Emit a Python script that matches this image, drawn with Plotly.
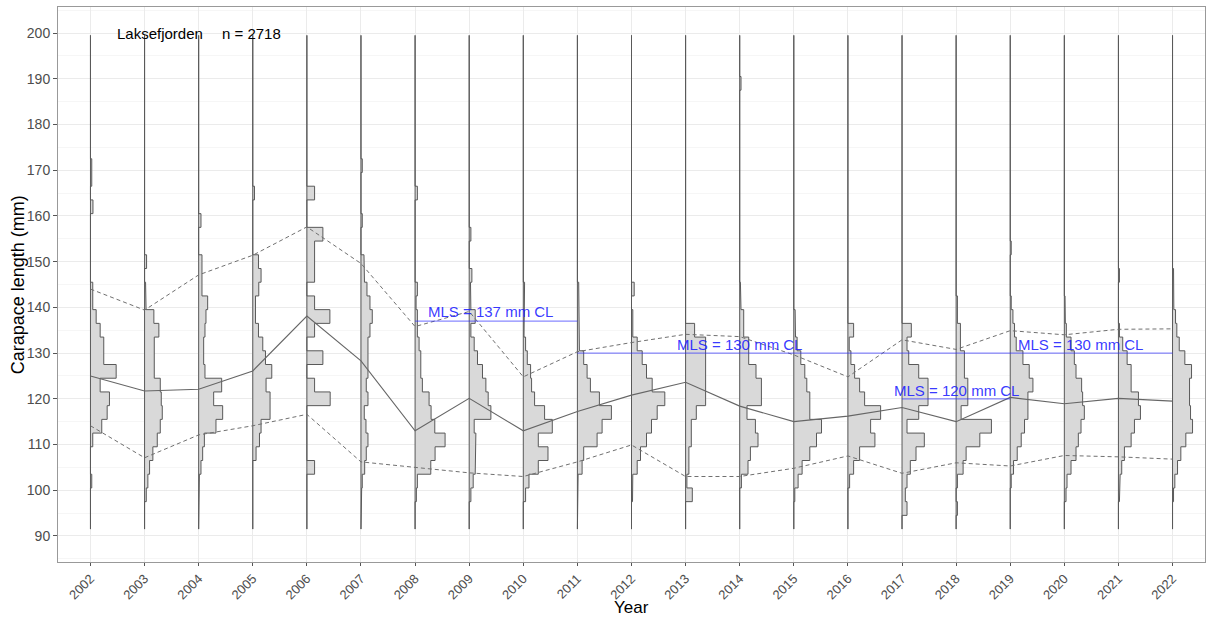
import plotly.graph_objects as go

# ---------------- data ----------------
years = list(range(2002, 2023))
bin_width = 3.0
bin_min, bin_max = 91.5, 199.5

# lower edge of the first listed bin, per year
hist_first_bin = [100.5, 97.5, 100.5, 106.5, 103.5, 97.5, 97.5, 97.5, 97.5, 100.5,
                  97.5, 97.5, 100.5, 97.5, 100.5, 94.5, 94.5, 100.5, 97.5, 97.5, 97.5]

# relative frequency per 3 mm bin (scaled), listed from the first bin upward
hist_freq = [
    [1.3, 0, 0, 2.3, 11.3, 16.7, 19, 9.7, 25.7, 13.3, 13.3, 9.7, 5.7, 2.3, 2.3, 0, 0, 0, 0, 0, 2.5, 0, 1.3, 1.3],
    [1.7, 3.3, 5, 8.3, 12.7, 15.7, 17.7, 16.7, 15.7, 9.7, 9.7, 9.7, 14.3, 9.3, 1.5, 1.0, 0, 2.0],
    [0.7, 2.3, 4, 5.7, 17.3, 24, 15, 23, 6.3, 5, 5, 6.3, 7.3, 9, 3.3, 3.3, 3.3, 0, 0, 2.3],
    [3.3, 6.7, 8.3, 17.3, 17.3, 13.3, 19, 12.7, 10, 5.7, 2.7, 2.7, 6, 8.3, 5.7, 0, 0, 0, 0, 1.7],
    [7.7, 0, 0, 0, 0, 23.3, 7.7, 0, 16, 0, 7.7, 23, 7.7, 0, 7.7, 7.7, 7.7, 16, 0, 0, 7.7],
    [0.7, 1.3, 3.7, 5.3, 7, 5, 3.3, 7, 5.3, 7, 7, 7, 9, 11.3, 9, 6, 3.5, 3, 0, 0, 1.3, 0, 0, 0, 1.3],
    [1.3, 2.3, 15.7, 20, 30, 19.7, 16, 14, 7.3, 5.7, 5.7, 4, 2.3, 2.3, 1, 2.3, 0, 0, 0, 0, 0, 0, 2.3],
    [1.7, 4, 6, 6, 6.7, 5, 21.7, 19, 16.7, 13.3, 8.3, 5, 1.7, 6, 1.7, 1.3, 2.7, 0, 0, 1.7],
    [2.3, 5.7, 15, 24.7, 15, 29, 21.3, 11.3, 8.3, 7.3, 4, 2.3, 0.7, 1.3, 1.3, 1.3],
    [0.7, 4.7, 6.3, 19.7, 24.7, 34, 22, 13, 9.7, 6.3, 2, 1.3, 1.3, 1.3, 1.3],
    [1, 1.3, 5.7, 9, 15, 20, 25.7, 33.3, 20.7, 15, 10.7, 5.7, 1.3, 1.3, 0, 2.7],
    [6.7, 1.3, 3.3, 3.3, 5.7, 5.7, 10.7, 20, 20, 20, 20, 20, 9],
    [1.7, 8.3, 10.7, 18.3, 15.7, 7.3, 21.7, 21.7, 16.3, 9, 9, 4, 4, 1.3, 0.7,
     0, 0, 0, 0, 0, 0, 0, 0, 0, 0, 0, 0, 0, 0, 1.3],
    [1, 4.3, 8.3, 16, 22.7, 27.7, 16, 16, 13, 11, 7, 3.3, 1.7, 1.3],
    [1.7, 5.7, 11.7, 27, 22.7, 32.7, 16.7, 11.7, 6.7, 3, 1.3, 5.7],
    [5, 3.3, 5, 8.3, 14, 22.3, 5, 16.7, 26, 26, 16.7, 6.7, 5, 9.3],
    [1.3, 0, 1.3, 7, 10, 23.7, 35.3, 5, 11.7, 11.7, 8.3, 8.3, 4.3, 4.3, 1.3, 1.3],
    [1, 3.3, 7, 11, 14.3, 17.7, 17.7, 22.7, 19, 12.7, 6, 4.3, 2.7, 1, 0, 0, 0, 1],
    [1.7, 2.7, 6.7, 11.7, 14, 16.7, 20, 18.3, 17.3, 11.7, 10, 6.7, 2, 1, 0.7],
    [1, 1.7, 3.3, 6, 12.7, 16, 22, 20, 12.7, 12.7, 8.7, 4.3, 1, 0, 0, 0, 1],
    [1, 2.3, 5, 8.3, 13.3, 20, 18, 17, 17, 19, 12.3, 6.7, 4.3, 3, 1.3, 1, 1],
]

mean_cl = [125.0, 121.7, 122.1, 126.1, 138.1, 128.3, 113.0, 120.1, 113.0, 117.2, 120.8,
           123.6, 118.4, 115.0, 116.2, 118.1, 115.0, 120.3, 118.9, 120.1, 119.5]
upper_cl = [144.0, 139.4, 147.1, 151.4, 157.6, 149.6, 135.8, 139.1, 124.8, 130.3, 132.3,
            134.1, 133.6, 129.6, 124.8, 132.9, 130.8, 134.9, 134.0, 135.2, 135.3]
lower_cl = [114.1, 107.1, 112.1, 114.1, 116.6, 106.2, 105.0, 103.8, 103.0, 106.2, 109.9,
            103.0, 103.0, 104.8, 107.5, 103.7, 106.0, 105.3, 107.6, 107.3, 106.8]

mls_values = [137, 130, 120]
mls_start = [2008, 2011, 2017]
mls_end = [2011, 2022, 2019]
mls_labels = ["MLS = 137 mm CL", "MLS = 130 mm CL", "MLS = 130 mm CL", "MLS = 120 mm CL"]
mls_label_x = [2009.4, 2014.0, 2020.3, 2018.0]
mls_label_y = [139.0, 131.8, 131.8, 121.9]

region_name = "Laksefjorden"
n_total = 2718

# ---------------- figure ----------------
FREQ_TO_YEAR = 1 / 54.1  # horizontal scale of histogram bars (year units per freq unit)
FONT = "Liberation Sans, Arial, sans-serif"

fig = go.Figure()

n_bins = int(round((bin_max - bin_min) / bin_width))
for yr, first, freqs in zip(years, hist_first_bin, hist_freq):
    full = [0.0] * n_bins
    k0 = int(round((first - bin_min) / bin_width))
    for i, f in enumerate(freqs):
        full[k0 + i] = f
    xs, ys = [yr], [bin_min]
    for k, f in enumerate(full):
        lo = bin_min + k * bin_width
        xs += [yr + f * FREQ_TO_YEAR, yr + f * FREQ_TO_YEAR]
        ys += [lo, lo + bin_width]
    xs += [yr, yr]
    ys += [bin_max, bin_min]
    fig.add_trace(go.Scatter(x=xs, y=ys, mode="lines", fill="toself",
                             fillcolor="#d9d9d9", line=dict(color="#595959", width=1),
                             hoverinfo="skip", showlegend=False))

fig.add_trace(go.Scatter(x=years, y=upper_cl, mode="lines",
                         line=dict(color="#707070", width=1, dash="4px,3px"), showlegend=False))
fig.add_trace(go.Scatter(x=years, y=lower_cl, mode="lines",
                         line=dict(color="#707070", width=1, dash="4px,3px"), showlegend=False))
fig.add_trace(go.Scatter(x=years, y=mean_cl, mode="lines",
                         line=dict(color="#666666", width=1.1), showlegend=False))

for v, x0, x1 in zip(mls_values, mls_start, mls_end):
    fig.add_trace(go.Scatter(x=[x0, x1], y=[v, v], mode="lines",
                             line=dict(color="rgba(40,40,255,0.55)", width=1.2), showlegend=False))

annotations = []
for txt, x, y in zip(mls_labels, mls_label_x, mls_label_y):
    annotations.append(dict(x=x, y=y, text=txt, showarrow=False, xref="x", yref="y",
                            font=dict(family=FONT, size=15, color="rgba(30,30,255,0.9)")))
annotations.append(dict(x=2003.29, y=200, text=region_name, showarrow=False, xref="x", yref="y",
                        font=dict(family=FONT, size=15, color="black")))
annotations.append(dict(x=2004.97, y=200, text=f"n = {n_total}", showarrow=False, xref="x", yref="y",
                        font=dict(family=FONT, size=15, color="black")))
# axis titles placed as annotations to match reference positions
annotations.append(dict(x=-0.035, y=0.5, xref="paper", yref="paper", text="Carapace length (mm)",
                        textangle=-90, showarrow=False, xanchor="center", yanchor="middle",
                        font=dict(family=FONT, size=18, color="black")))
annotations.append(dict(x=0.5, y=-0.082, xref="paper", yref="paper", text="Year",
                        showarrow=False, xanchor="center", yanchor="middle",
                        font=dict(family=FONT, size=17, color="black")))

fig.update_layout(
    width=1207, height=619,
    margin=dict(l=58, r=2, t=7, b=57),
    paper_bgcolor="white", plot_bgcolor="white",
    font=dict(family=FONT, size=14, color="#4d4d4d"),
    annotations=annotations,
    showlegend=False,
)
fig.update_xaxes(
    range=[2001.4, 2022.6], tickmode="array", tickvals=years, ticktext=[str(y) for y in years],
    tickangle=-45, ticks="outside", ticklen=3, tickcolor="#555", tickfont=dict(size=13, color="#4d4d4d"),
    showgrid=True, gridcolor="#ebebeb", gridwidth=1, zeroline=False, automargin=False,
    showline=True, linecolor="#999", linewidth=1, mirror=True,
)
fig.update_yaxes(
    range=[84.3, 205.7], tickmode="array", tickvals=list(range(90, 201, 10)),
    ticks="outside", ticklen=4, tickcolor="#555", tickfont=dict(size=14, color="#4d4d4d"),
    showgrid=True, gridcolor="#ebebeb", gridwidth=1, zeroline=False, automargin=False,
    minor=dict(tickvals=list(range(85, 206, 10)), showgrid=True, gridcolor="#f6f6f6", ticks=""),
    showline=True, linecolor="#999", linewidth=1, mirror=True,
)

fig.write_html("out.html")
